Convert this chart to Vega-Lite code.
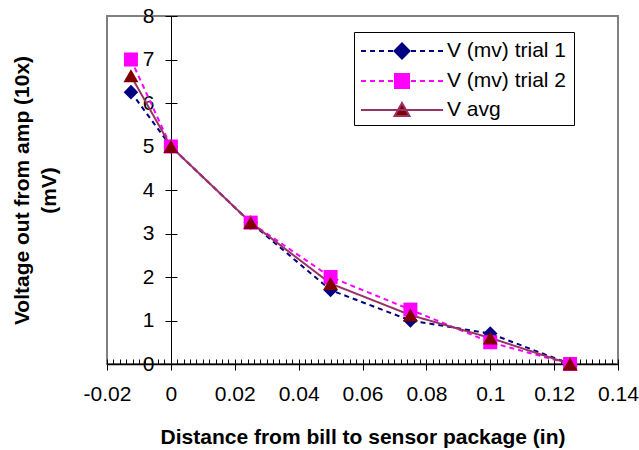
{
  "$schema": "https://vega.github.io/schema/vega-lite/v6.json",
  "width": 511,
  "height": 348,
  "autosize": {"type": "none"},
  "padding": {"left": 107, "top": 16, "right": 21, "bottom": 86},
  "background": "white",
  "data": {
    "values": [
      {"x": -0.0125, "v": 6.25, "series": "V (mv) trial 1"},
      {"x": 0, "v": 5.0, "series": "V (mv) trial 1"},
      {"x": 0.025, "v": 3.25, "series": "V (mv) trial 1"},
      {"x": 0.05, "v": 1.7, "series": "V (mv) trial 1"},
      {"x": 0.075, "v": 1.0, "series": "V (mv) trial 1"},
      {"x": 0.1, "v": 0.7, "series": "V (mv) trial 1"},
      {"x": 0.125, "v": 0.0, "series": "V (mv) trial 1"},
      {"x": -0.0125, "v": 7.0, "series": "V (mv) trial 2"},
      {"x": 0, "v": 5.0, "series": "V (mv) trial 2"},
      {"x": 0.025, "v": 3.25, "series": "V (mv) trial 2"},
      {"x": 0.05, "v": 2.0, "series": "V (mv) trial 2"},
      {"x": 0.075, "v": 1.25, "series": "V (mv) trial 2"},
      {"x": 0.1, "v": 0.5, "series": "V (mv) trial 2"},
      {"x": 0.125, "v": 0.0, "series": "V (mv) trial 2"},
      {"x": -0.0125, "v": 6.625, "series": "V avg"},
      {"x": 0, "v": 5.0, "series": "V avg"},
      {"x": 0.025, "v": 3.25, "series": "V avg"},
      {"x": 0.05, "v": 1.85, "series": "V avg"},
      {"x": 0.075, "v": 1.125, "series": "V avg"},
      {"x": 0.1, "v": 0.6, "series": "V avg"},
      {"x": 0.125, "v": 0.0, "series": "V avg"}
    ]
  },
  "resolve": {
    "axis": {"x": "independent", "y": "independent"},
    "scale": {"shape": "independent"},
    "legend": {"color": "independent", "stroke": "independent", "shape": "independent"}
  },
  "layer": [
    {
      "mark": {"type": "line", "strokeWidth": 2},
      "encoding": {
        "x": {
          "field": "x", "type": "quantitative",
          "scale": {"domain": [-0.02, 0.14], "nice": false, "zero": false},
          "axis": {
            "orient": "bottom", "labels": false, "domain": false, "grid": false, "title": null,
            "tickSize": -5, "tickColor": "black", "tickWidth": 1,
            "values": [-0.02,-0.018,-0.016,-0.014,-0.012,-0.01,-0.008,-0.006,-0.004,-0.002,0,0.002,0.004,0.006,0.008,0.01,0.012,0.014,0.016,0.018,0.02,0.022,0.024,0.026,0.028,0.03,0.032,0.034,0.036,0.038,0.04,0.042,0.044,0.046,0.048,0.05,0.052,0.054,0.056,0.058,0.06,0.062,0.064,0.066,0.068,0.07,0.072,0.074,0.076,0.078,0.08,0.082,0.084,0.086,0.088,0.09,0.092,0.094,0.096,0.098,0.1,0.102,0.104,0.106,0.108,0.11,0.112,0.114,0.116,0.118,0.12,0.122,0.124,0.126,0.128,0.13,0.132,0.134,0.136,0.138,0.14]
          }
        },
        "y": {
          "field": "v", "type": "quantitative",
          "scale": {"domain": [0, 8], "nice": false, "zero": false},
          "axis": {
            "orient": "left", "offset": -64, "labels": false, "domain": false, "grid": false, "title": null,
            "tickSize": -6, "tickColor": "black", "tickWidth": 1,
            "values": [1, 2, 3, 4, 5, 6, 7, 8]
          }
        },
        "stroke": {
          "field": "series", "type": "nominal",
          "scale": {"domain": ["V (mv) trial 1", "V (mv) trial 2", "V avg"], "range": ["#000080", "#FF00FF", "#993366"]},
          "legend": null
        },
        "strokeDash": {
          "field": "series", "type": "nominal",
          "scale": {"domain": ["V avg", "V (mv) trial 1", "V (mv) trial 2"], "range": [[1, 0], [5, 4], [5, 4]]},
          "legend": null
        }
      }
    },
    {
      "mark": {"type": "point", "filled": true, "opacity": 1},
      "encoding": {
        "x": {
          "field": "x", "type": "quantitative",
          "scale": {"domain": [-0.02, 0.14], "nice": false, "zero": false},
          "axis": {
            "orient": "bottom", "grid": false,
            "values": [-0.02, 0, 0.02, 0.04, 0.06, 0.08, 0.1, 0.12, 0.14],
            "tickSize": 6, "tickColor": "black", "tickWidth": 1,
            "domainColor": "black", "domainWidth": 1.5,
            "labelFontSize": 21, "labelColor": "black", "labelPadding": 13,
            "labelFlush": false, "labelOverlap": false, "labelBound": false,
            "labelExpr": "'' + datum.value",
            "title": "Distance from bill to sensor package (in)",
            "titleFontSize": 21, "titleFontWeight": "bold", "titleColor": "black",
            "titleX": 255.5, "titleY": 79, "titleBaseline": "alphabetic", "titleAlign": "center"
          }
        },
        "y": {
          "field": "v", "type": "quantitative",
          "scale": {"domain": [0, 8], "nice": false, "zero": false},
          "axis": {
            "orient": "left", "offset": -64, "grid": false,
            "values": [0, 1, 2, 3, 4, 5, 6, 7, 8],
            "tickSize": 6, "tickColor": "black", "tickWidth": 1,
            "domainColor": "black", "domainWidth": 1,
            "labelFontSize": 21, "labelColor": "black", "labelPadding": 11,
            "labelFlush": false, "labelOverlap": false, "labelBound": false,
            "labelBaseline": "middle",
            "title": ["Voltage out from amp (10x)", "(mV)"],
            "titleFontSize": 21, "titleFontWeight": "bold", "titleColor": "black",
            "titleAngle": 270, "titleX": -160, "titleY": 174, "titleBaseline": "top",
            "titleAlign": "center", "titleLineHeight": 27
          }
        },
        "color": {
          "field": "series", "type": "nominal",
          "scale": {"domain": ["V (mv) trial 1", "V (mv) trial 2", "V avg"], "range": ["#000080", "#FF00FF", "#800000"]},
          "legend": null
        },
        "size": {
          "field": "series", "type": "nominal",
          "scale": {"domain": ["V avg", "V (mv) trial 1", "V (mv) trial 2"], "range": [225, 196, 225]},
          "legend": null
        },
        "shape": {
          "field": "series", "type": "nominal",
          "scale": {"domain": ["V (mv) trial 1", "V (mv) trial 2", "V avg"], "range": ["diamond", "square", "triangle-up"]},
          "legend": null
        }
      }
    },
    {
      "mark": {"type": "point", "filled": true, "opacity": 0, "strokeWidth": 2},
      "encoding": {
        "x": {"field": "x", "type": "quantitative", "axis": null},
        "y": {"field": "v", "type": "quantitative", "axis": null},
        "color": {
          "field": "series", "type": "nominal",
          "scale": {"domain": ["V (mv) trial 1", "V (mv) trial 2", "V avg"], "range": ["#000080", "#FF00FF", "#800000"]},
          "legend": {"orient": "none", "legendX": 247, "legendY": 16}
        },
        "stroke": {
          "field": "series", "type": "nominal",
          "scale": {"domain": ["V (mv) trial 1", "V (mv) trial 2", "V avg"], "range": ["#000080", "#FF00FF", "#993366"]},
          "legend": {"orient": "none", "legendX": 247, "legendY": 16}
        },
        "shape": {
          "field": "series", "type": "nominal",
          "scale": {
            "domain": ["V (mv) trial 1", "V (mv) trial 2", "V avg"],
            "range": [
              "M-0.857,0H-0.5M-0.214,0H0.143M0.429,0H0.786M1.071,0H1.429M2.714,0H3.071M3.357,0H3.714M4,0H4.357M4.643,0H5M1.536,0L2.071,-0.536L2.607,0L2.071,0.536Z",
              "M-0.857,0H-0.5M-0.214,0H0.143M0.429,0H0.786M1.071,0H1.429M2.714,0H3.071M3.357,0H3.714M4,0H4.357M4.643,0H5M1.571,-0.5H2.571V0.5H1.571Z",
              "M-0.857,0H5M2.071,-0.5L2.607,0.429L1.536,0.429Z"
            ]
          },
          "legend": {
            "orient": "none", "legendX": 247, "legendY": 16,
            "title": " ", "titleOrient": "right", "titlePadding": 4, "titleFontSize": 21,
            "direction": "vertical",
            "padding": 4, "rowPadding": 3,
            "strokeColor": "black", "fillColor": "white", "cornerRadius": 0,
            "symbolSize": 784, "symbolStrokeWidth": 2, "symbolOpacity": 1,
            "labelFontSize": 21, "labelColor": "black", "labelOffset": 59, "labelLimit": 400,
            "labelBaseline": "middle"
          }
        }
      }
    }
  ],
  "config": {
    "font": "Liberation Sans",
    "view": {"stroke": "#808080", "strokeWidth": 2},
    "axis": {"grid": false}
  }
}
